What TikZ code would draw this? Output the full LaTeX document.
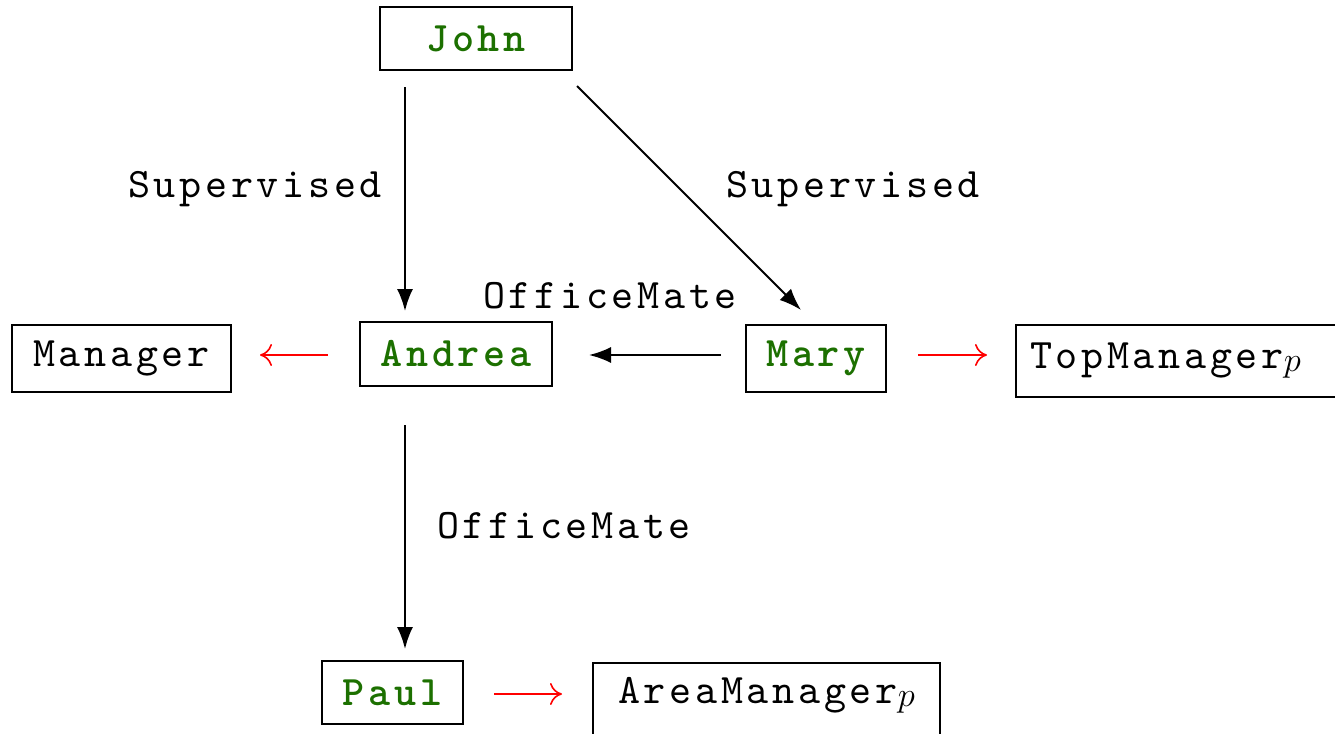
\documentclass[tikz,border=0pt]{standalone}
\usepackage{fontspec}
\newfontfamily\courfont{lmmono10-regular.otf}[BoldFont=lmmonolt10-bold.otf, LetterSpace=8.8]
\usetikzlibrary{arrows.meta}
\definecolor{namegreen}{RGB}{28,112,0}
\newcommand{\subp}{\raisebox{-1.5pt}{\fontsize{16}{16}\selectfont$p$}}
\begin{document}
\begin{tikzpicture}[x=0.5pt,y=-0.5pt,
  every node/.style={font=\courfont\fontsize{21}{25}\selectfont, inner sep=0pt},
  plainbox/.style={draw, line width=1pt, anchor=center},
  namebox/.style={plainbox, text=namegreen, font=\courfont\bfseries\fontsize{21}{25}\selectfont},
  lbl/.style={anchor=center},
  blk/.style={line width=1pt, -{Latex[length=11pt,width=8pt]}},
  redarr/.style={draw=red, line width=0.8pt, -{Computer Modern Rightarrow[length=6pt,width=11pt,line width=0.8pt]}}
]
\useasboundingbox (0,0) rectangle (1335,734);
\node[namebox, minimum width=96pt, minimum height=31.5pt] (John) at (476,38.5) {John};
\node[plainbox, minimum width=109.5pt, minimum height=33.5pt] (Manager) at (121.5,358.5) {Manager};
\node[namebox, minimum width=96pt, minimum height=32pt] (Andrea) at (456,354) {Andrea};
\node[namebox, minimum width=70pt, minimum height=33.5pt] (Mary) at (816,358.5) {Mary};
\node[plainbox, minimum width=174pt, minimum height=36pt, text width=160pt, align=left] (Top) at (1190,361) {TopManager\subp};
\node[namebox, minimum width=70.5pt, minimum height=31.5pt] (Paul) at (392.5,692.5) {Paul};
\node[plainbox, minimum width=173.5pt, minimum height=40pt] (Area) at (766.5,703) {\raisebox{0pt}[0pt][0pt]{AreaManager\subp}};

\node[lbl] (s1) at (255,189) {Supervised};
\node[lbl] (s2) at (853,189) {Supervised};
\node[lbl] (o1) at (610,296) {OfficeMate};
\node[lbl] (o2) at (564,526) {OfficeMate};

\draw[blk] ([xshift=13pt,yshift=-8pt]John.south west) -- ([xshift=23pt,yshift=5pt]Andrea.north west);
\draw[blk] ([xshift=2pt,yshift=-7.5pt]John.south east) -- ([xshift=28pt,yshift=7pt]Mary.north west);
\draw[blk] ([xshift=-12pt,yshift=1.75pt]Mary.west) -- ([xshift=18pt,yshift=1.75pt]Mary.west -| Andrea.east);
\draw[blk] ([xshift=23pt,yshift=-19pt]Andrea.south west) -- ([xshift=42pt,yshift=5.5pt]Paul.north west);

\draw[redarr] ([xshift=-15.5pt,yshift=-0.5pt]Andrea.west) -- ([xshift=14pt,yshift=-0.5pt]Andrea.west -| Manager.east);
\draw[redarr] ([xshift=15.5pt,yshift=1.75pt]Mary.east) -- ([xshift=-14pt,yshift=1.75pt]Mary.east -| Top.west);
\draw[redarr] ([xshift=15pt,yshift=-0.75pt]Paul.east) -- ([xshift=-15pt,yshift=-0.75pt]Paul.east -| Area.west);
\end{tikzpicture}
\end{document}
